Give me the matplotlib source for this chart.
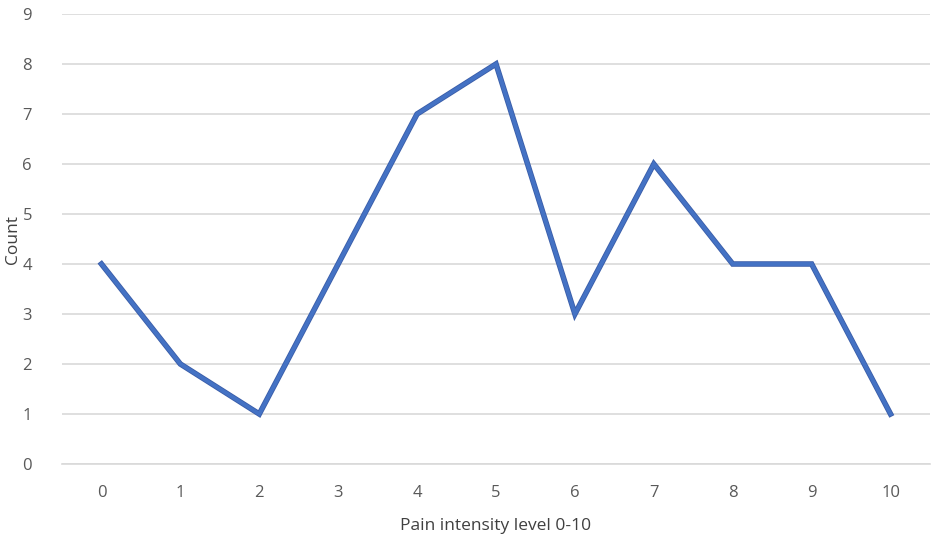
import matplotlib
matplotlib.use("Agg")
import matplotlib.pyplot as plt
import matplotlib.patheffects as pe

levels = [0, 1, 2, 3, 4, 5, 6, 7, 8, 9, 10]
counts = [4, 2, 1, 4, 7, 8, 3, 6, 4, 4, 1]
y_ticks = [0, 1, 2, 3, 4, 5, 6, 7, 8, 9]

plt.rcParams['font.family'] = ['Open Sans', 'DejaVu Sans']

fig = plt.figure(figsize=(9.35, 5.39), dpi=100)
ax = fig.add_axes([62/935, 75/539, (930-62)/935, (464-14)/539])

ax.plot(levels, counts, color='#4472C4', lw=2.8, solid_joinstyle='miter',
        path_effects=[pe.Stroke(linewidth=4.0, foreground='#3A5DA8'), pe.Normal()], zorder=3)

ax.set_xlim(-0.5, 10.5)
ax.set_ylim(0, 9)
ax.set_xticks(levels)
ax.set_xticklabels([str(v) for v in levels])
ax.set_yticks(y_ticks)
ax.grid(axis='y', color='#D9D9D9', lw=1.2)
ax.set_axisbelow(True)
for s in ['top', 'right', 'left']:
    ax.spines[s].set_visible(False)
ax.spines['bottom'].set_color('#D9D9D9')
ax.spines['bottom'].set_linewidth(1.2)
ax.tick_params(axis='both', length=0, labelsize=12, colors='#595959')
ax.tick_params(axis='x', pad=15)
ax.tick_params(axis='y', pad=25)
for lab in ax.get_yticklabels():
    lab.set_horizontalalignment('center')
ax.set_xlabel('Pain intensity level 0-10', fontsize=12.5, color='#404040', labelpad=12)
ax.set_ylabel('Count', fontsize=12.5, color='#404040')
ax.yaxis.set_label_coords(-41/868, 0.5)

fig.savefig('out.png', dpi=100, facecolor='white')
